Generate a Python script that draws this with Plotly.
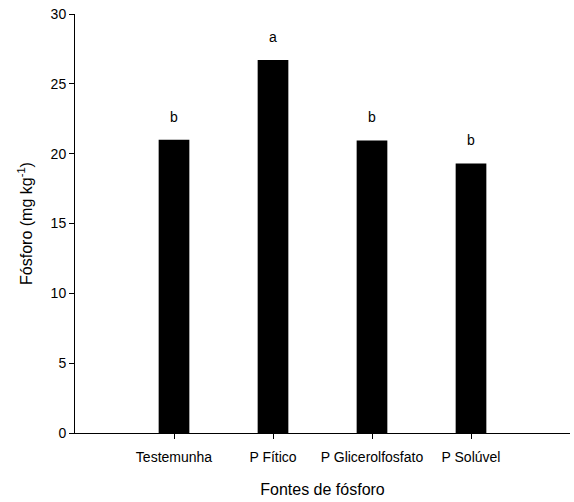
import plotly.graph_objects as go

categories = ["Testemunha", "P Fítico", "P Glicerolfosfato", "P Solúvel"]
values = [21.0, 26.7, 20.95, 19.3]
letters = ["b", "a", "b", "b"]
y_ticks = [0, 5, 10, 15, 20, 25, 30]

font_family = "Liberation Sans, Arial, sans-serif"

fig = go.Figure()
fig.add_trace(go.Bar(
    x=categories, y=values,
    marker=dict(color="black", line=dict(width=0)),
    width=0.31,
))

for c, v, l in zip(categories, values, letters):
    fig.add_annotation(x=c, y=v, text=l, showarrow=False, yanchor="middle",
                       yshift=23, font=dict(size=14, color="black", family=font_family))

fig.update_layout(
    width=574, height=502,
    margin=dict(l=75, r=4, t=14, b=69, autoexpand=False),
    plot_bgcolor="white", paper_bgcolor="white",
    showlegend=False,
    font=dict(family=font_family, color="black", size=14),
)
fig.update_xaxes(
    type="category", range=[-1, 4],
    showline=True, linecolor="black", linewidth=1,
    ticks="outside", ticklen=5, tickcolor="black",
    showgrid=False, zeroline=False,
    tickfont=dict(size=14), ticklabelstandoff=6, ticklabeloverflow="allow",
    title=dict(text="Fontes de fósforo", font=dict(size=16), standoff=20),
)
fig.update_yaxes(
    range=[0, 30], tickvals=y_ticks,
    showline=True, linecolor="black", linewidth=1,
    ticks="outside", ticklen=5, tickcolor="black",
    showgrid=False, zeroline=False,
    tickfont=dict(size=14), ticklabeloverflow="allow",
    title=dict(text="Fósforo (mg kg<sup>-1</sup>)", font=dict(size=16), standoff=14),
)

fig.write_html("out.html", config={"displayModeBar": False},
               post_script="document.body.style.margin='0';")
